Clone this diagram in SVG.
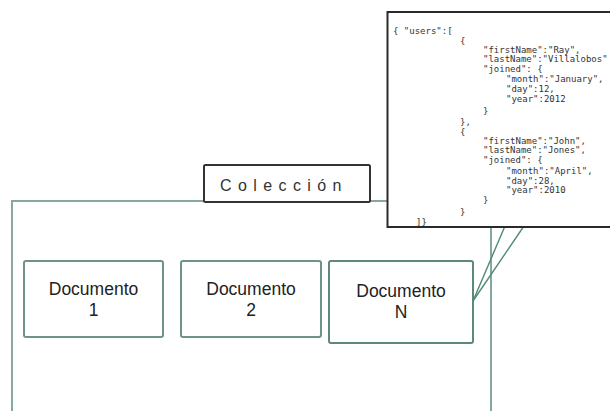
<svg xmlns="http://www.w3.org/2000/svg" width="610" height="411" viewBox="0 0 610 411">
<style>
.frame{fill:none;stroke:#86a89d;stroke-width:2}
.doc rect{fill:#fff;stroke:#6d9487;stroke-width:2}
.doc text{font-family:"Liberation Sans",Arial,sans-serif;font-size:17.5px;fill:#222;text-anchor:middle}
.conn line{stroke:#4f8a78;stroke-width:1.4}
.lbl{font-family:"Liberation Sans",Arial,sans-serif;font-size:16px;letter-spacing:6.4px;fill:#333}
.json text{font-family:"DejaVu Sans Mono","Liberation Mono",monospace;font-size:9px;fill:#333}
</style>
<rect width="610" height="411" fill="#fff"/>
<g id="coleccion-frame">
<rect class="frame" x="12" y="201" width="479" height="240"/>
</g>
<g id="doc1" class="doc">
<rect x="24" y="261" width="139" height="76" rx="2"/>
<text x="93.5" y="295">Documento</text>
<text x="93.5" y="316">1</text>
</g>
<g id="doc2" class="doc">
<rect x="181" y="261" width="140" height="76" rx="2"/>
<text x="251" y="295">Documento</text>
<text x="251" y="316">2</text>
</g>
<g id="docN" class="doc">
<rect x="329" y="261" width="144" height="82" rx="2" style="stroke:#5e887a"/>
<text x="401" y="297">Documento</text>
<text x="401" y="318">N</text>
</g>
<g id="connectors" class="conn">
<line x1="473" y1="301" x2="505" y2="226"/>
<line x1="473" y1="301" x2="524" y2="226"/>
</g>
<g id="label">
<rect x="204" y="165" width="166" height="37" rx="1.5" fill="#fff" stroke="#333" stroke-width="2"/>
<text class="lbl" x="220" y="191">Colección</text>
</g>
<g id="json" class="json">
<rect x="387.5" y="12" width="230" height="215" fill="#fff" stroke="#2a2a2a" stroke-width="2"/>
<text x="393" y="34">{ "users":[</text>
<text x="460" y="44">{</text>
<text x="483" y="53">"firstName":"Ray",</text>
<text x="483" y="62">"lastName":"Villalobos"</text>
<text x="483" y="72">"joined": {</text>
<text x="506" y="82">"month":"January",</text>
<text x="506" y="92">"day":12,</text>
<text x="506" y="102">"year":2012</text>
<text x="483" y="114">}</text>
<text x="460" y="125">},</text>
<text x="460" y="135">{</text>
<text x="483" y="144">"firstName":"John",</text>
<text x="483" y="153">"lastName":"Jones",</text>
<text x="483" y="163">"joined": {</text>
<text x="506" y="174">"month":"April",</text>
<text x="506" y="184">"day":28,</text>
<text x="506" y="193">"year":2010</text>
<text x="483" y="203">}</text>
<text x="460" y="215">}</text>
<text x="416" y="225">]}</text>
</g>
</svg>
